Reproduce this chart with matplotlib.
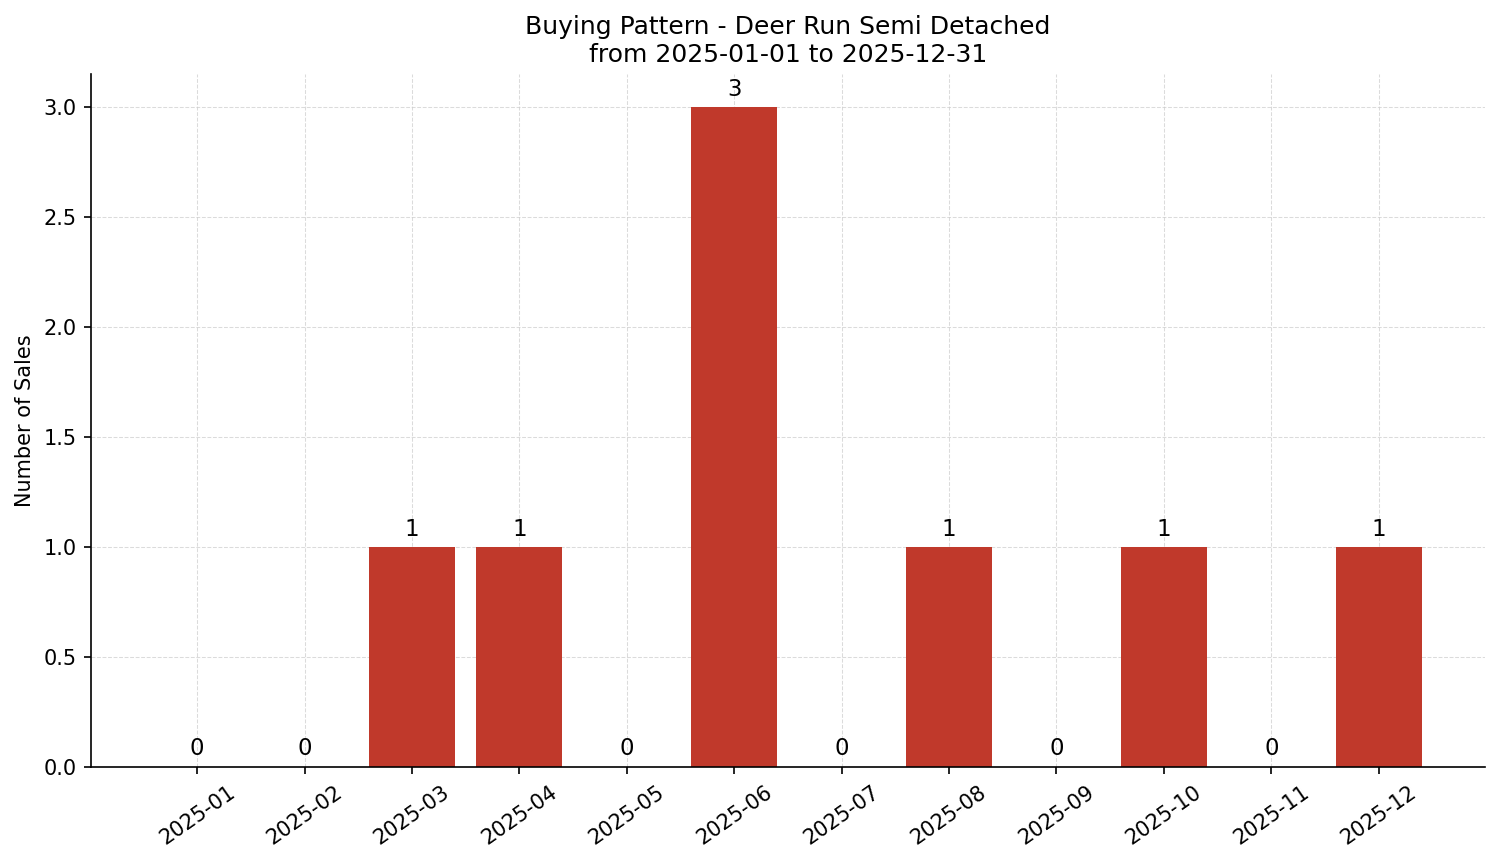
import matplotlib.pyplot as plt

# monthly sales counts
months = ["2025-01", "2025-02", "2025-03", "2025-04", "2025-05", "2025-06",
          "2025-07", "2025-08", "2025-09", "2025-10", "2025-11", "2025-12"]
sales = [0, 0, 1, 1, 0, 3, 0, 1, 0, 1, 0, 1]

fig, ax = plt.subplots(figsize=(10.0, 5.75), dpi=150)

bars = ax.bar(months, sales, color='#c0392b', width=0.8, zorder=2)

# count above each bar
for b, v in zip(bars, sales):
    ax.text(b.get_x() + b.get_width() / 2, v + 0.03, str(v),
            ha='center', va='bottom', fontsize=11)

ax.set_title("Buying Pattern - Deer Run Semi Detached\nfrom 2025-01-01 to 2025-12-31", fontsize=12)
ax.set_ylabel("Number of Sales")
ax.grid(True, linestyle='--', linewidth=0.5, color='#cccccc', alpha=0.7, zorder=0)
ax.spines['top'].set_visible(False)
ax.spines['right'].set_visible(False)
plt.setp(ax.get_xticklabels(), rotation=35)

fig.subplots_adjust(left=0.0606, right=0.990, top=0.9137, bottom=0.1107)
plt.savefig('out.png', dpi=150)
